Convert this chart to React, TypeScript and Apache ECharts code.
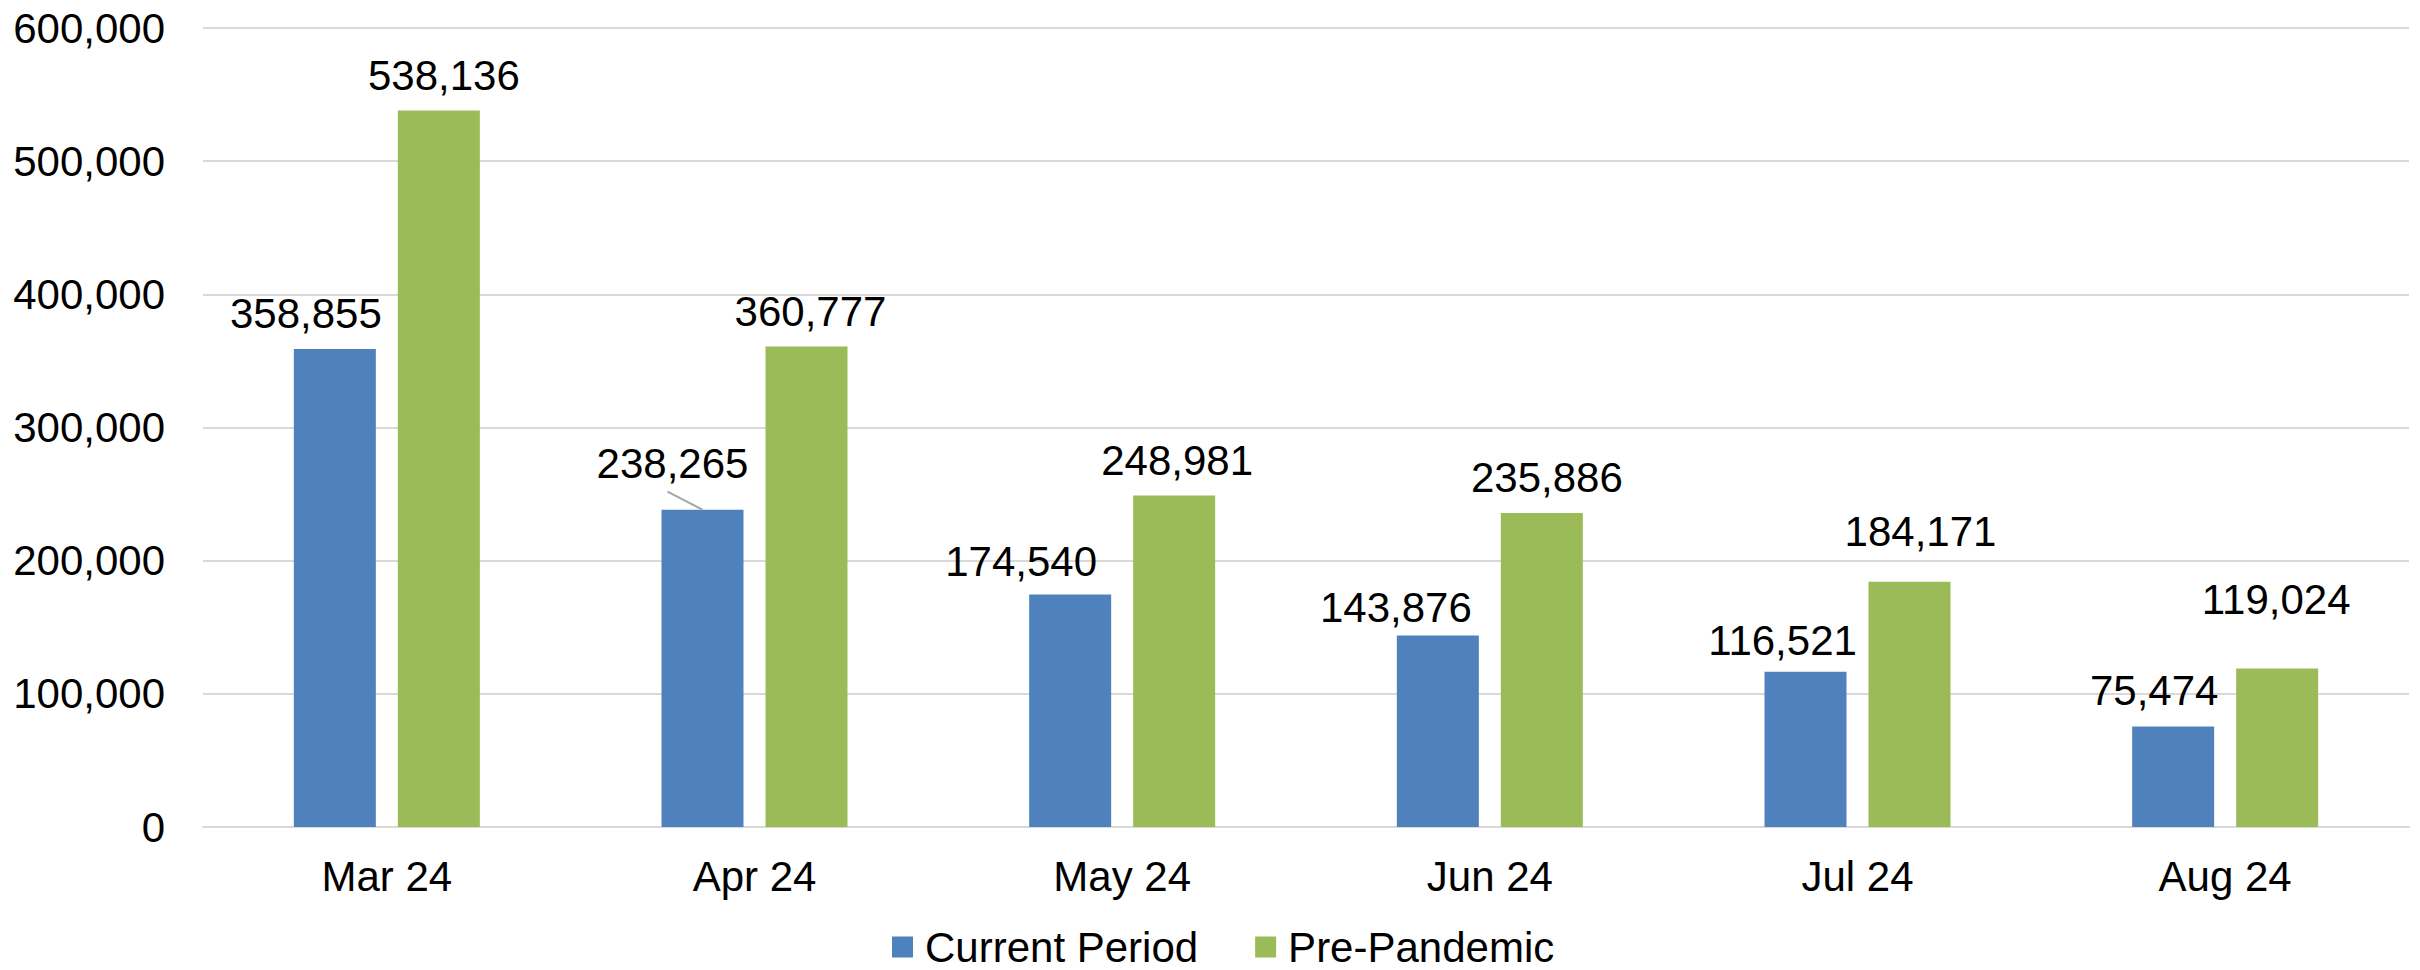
import React, { useEffect, useRef } from "react";
import * as echarts from "echarts";

const categories = ["Mar 24", "Apr 24", "May 24", "Jun 24", "Jul 24", "Aug 24"];
const currentPeriod = [358855, 238265, 174540, 143876, 116521, 75474];
const prePandemic = [538136, 360777, 248981, 235886, 184171, 119024];
const yTicks = { min: 0, max: 600000, interval: 100000 };

// label displacement (px) relative to default "top" placement
const currentLabelOffsets = [[-29, -10], [-30, -20], [-49, -7], [-42, -2], [-23, -5], [-19, -10]];
const preLabelOffsets = [[5, -9], [4, -9], [3, -9], [5, -9], [11, -24], [-1, -43]];

const FONT = "'Liberation Sans', Arial, sans-serif";
const BAR_W = 82;
const GAP_PX = 22;

const fmt = (v: number) => v.toLocaleString("en-US");

export default function App() {
  const ref = useRef<HTMLDivElement>(null);
  useEffect(() => {
    document.body.style.margin = "0";
    const chart = echarts.init(ref.current!, null, { renderer: "svg" });
    const labelBase = {
      show: true,
      position: "top",
      distance: 5,
      fontSize: 42,
      fontFamily: FONT,
      color: "#000",
      formatter: (p: any) => fmt(p.value),
    };
    chart.setOption({
      animation: false,
      backgroundColor: "#fff",
      textStyle: { fontFamily: FONT },
      grid: { left: 203, right: 11, top: 28, bottom: 143, containLabel: false },
      legend: {
        left: 892,
        top: 926,
        padding: 0,
        itemWidth: 21,
        itemHeight: 21,
        itemGap: 57,
        icon: "rect",
        textStyle: {
          fontSize: 42,
          lineHeight: 40,
          fontFamily: FONT,
          color: "#000",
          padding: [0, 0, 0, 7],
        },
        data: ["Current Period", "Pre-Pandemic"],
      },
      xAxis: {
        type: "category",
        data: categories,
        axisLine: { show: true, lineStyle: { color: "#d9d9d9", width: 2 } },
        axisTick: { show: false },
        axisLabel: { fontSize: 42, fontFamily: FONT, color: "#000", margin: 28 },
      },
      yAxis: {
        type: "value",
        min: yTicks.min,
        max: yTicks.max,
        interval: yTicks.interval,
        axisLine: { show: false },
        axisTick: { show: false },
        splitLine: { lineStyle: { color: "#d9d9d9", width: 2 } },
        axisLabel: {
          fontSize: 42,
          fontFamily: FONT,
          color: "#000",
          margin: 38,
          formatter: (v: number) => fmt(v),
        },
      },
      series: [
        {
          name: "Current Period",
          type: "bar",
          barWidth: BAR_W,
          barGap: (GAP_PX / BAR_W) * 100 + "%",
          itemStyle: { color: "#4F81BD" },
          label: labelBase,
          data: currentPeriod.map((v, i) => ({
            value: v,
            label: { offset: currentLabelOffsets[i] },
          })),
        },
        {
          name: "Pre-Pandemic",
          type: "bar",
          barWidth: BAR_W,
          barGap: (GAP_PX / BAR_W) * 100 + "%",
          itemStyle: { color: "#9BBB59" },
          label: labelBase,
          data: prePandemic.map((v, i) => ({
            value: v,
            label: { offset: preLabelOffsets[i] },
          })),
        },
      ],
    });
    // leader line for the displaced Apr "Current Period" label
    const idx = 1;
    const pt = chart.convertToPixel({ gridIndex: 0 } as any, [idx, currentPeriod[idx]]) as number[];
    if (pt) {
      const bx = pt[0] - (BAR_W + GAP_PX) / 2;
      chart.setOption({
        graphic: [
          {
            type: "line",
            shape: { x1: bx - 35, y1: pt[1] - 18, x2: bx, y2: pt[1] },
            style: { stroke: "#a6a6a6", lineWidth: 2 },
            z: 10,
          },
        ],
      });
    }
    return () => chart.dispose();
  }, []);
  return <div ref={ref} style={{ width: 2420, height: 970 }} />;
}
